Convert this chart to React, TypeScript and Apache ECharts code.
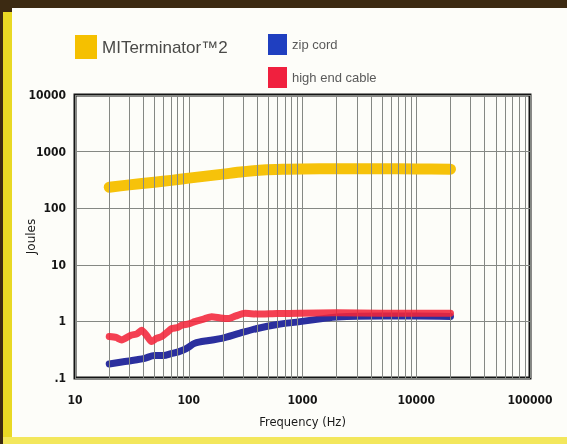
import React, { useEffect, useRef } from 'react';
import * as echarts from 'echarts';

const SERIES_NAMES = ['MITerminator™2', 'zip cord', 'high end cable'];

const FREQ_MIT = [20, 30, 50, 70, 100, 200, 300, 450, 700, 1000, 2000, 5000, 10000, 20000];
const MIT = [235, 258, 288, 310, 340, 400, 440, 475, 490, 495, 500, 498, 494, 490];

const FREQ_ZIP = [20, 25, 30, 35, 41, 50, 60, 70, 81, 95, 113, 150, 195, 282, 400, 600, 950, 1500, 2000, 5000, 10000, 20000];
const ZIP = [0.177, 0.19, 0.2, 0.21, 0.223, 0.25, 0.25, 0.27, 0.29, 0.33, 0.41, 0.46, 0.5, 0.62, 0.75, 0.88, 0.99, 1.12, 1.2, 1.24, 1.24, 1.22];

const FREQ_HIGH = [20, 23, 25.7, 31, 35, 38.5, 43, 47, 52, 58, 65, 71, 80, 87, 100, 113, 135, 159, 190, 222, 260, 312, 400, 600, 950, 2000, 5000, 10000, 20000];
const HIGH = [0.54, 0.52, 0.47, 0.57, 0.6, 0.7, 0.55, 0.44, 0.5, 0.54, 0.65, 0.75, 0.78, 0.86, 0.9, 0.99, 1.1, 1.21, 1.15, 1.12, 1.25, 1.39, 1.35, 1.38, 1.39, 1.42, 1.4, 1.4, 1.39];

const MINOR_X = [
  20, 30, 40, 50, 60, 70, 80, 90,
  200, 300, 400, 500, 600, 700, 800, 900,
  2000, 3000, 4000, 5000, 6000, 7000, 8000, 9000,
  20000, 30000, 40000, 50000, 60000, 70000, 80000, 90000,
];

const COLORS = ['#f6c20a', '#2b2f9e', '#f2263a'];
const LEGEND_COLORS = ['#f5c000', '#1f3fc0', '#f0203e'];

const zip = (xs: number[], ys: number[]) => xs.map((x, i) => [x, ys[i]]);

export default function App() {
  const ref = useRef<HTMLDivElement>(null);
  useEffect(() => {
    if (!ref.current) return;
    const chart = echarts.init(ref.current, undefined, { renderer: 'svg' });
    const tickFont = {
      fontFamily: "'Liberation Sans Narrow', 'DejaVu Sans Condensed', 'Liberation Sans', sans-serif",
      fontWeight: 'bold' as const,
      fontSize: 12,
      color: '#151515',
    };
    chart.setOption({
      animation: false,
      backgroundColor: 'transparent',
      graphic: [
        { type: 'rect', z: -10, silent: true, shape: { x: 0, y: 0, width: 567, height: 444 }, style: { fill: '#3c2a12' } },
        { type: 'rect', z: -9, silent: true, shape: { x: 3, y: 12, width: 10, height: 432 }, style: { fill: '#e9d924' } },
        { type: 'rect', z: -9, silent: true, shape: { x: 3, y: 437, width: 564, height: 7 }, style: { fill: '#f3e75c' } },
        { type: 'rect', z: -8, silent: true, shape: { x: 12, y: 8, width: 555, height: 429 }, style: { fill: '#fdfdf9' } },
      ],
      legend: [
        {
          data: [{ name: SERIES_NAMES[0], itemStyle: { color: LEGEND_COLORS[0] } }],
          left: 70, top: 30, icon: 'rect', itemWidth: 22, itemHeight: 24, itemGap: 0,
          textStyle: { fontSize: 17, color: '#4a4a48', fontFamily: "'Liberation Sans', sans-serif" },
        },
        {
          data: [{ name: SERIES_NAMES[1], itemStyle: { color: LEGEND_COLORS[1] } }],
          left: 263, top: 29, icon: 'rect', itemWidth: 19, itemHeight: 21,
          textStyle: { fontSize: 13, color: '#5a5a5a', fontFamily: "'Liberation Sans', sans-serif" },
        },
        {
          data: [{ name: SERIES_NAMES[2], itemStyle: { color: LEGEND_COLORS[2] } }],
          left: 263, top: 62, icon: 'rect', itemWidth: 19, itemHeight: 21,
          textStyle: { fontSize: 13, color: '#5a5a5a', fontFamily: "'Liberation Sans', sans-serif" },
        },
      ],
      grid: {
        left: 75, right: 37, top: 95, bottom: 66,
        show: true, borderColor: '#141414', borderWidth: 3, backgroundColor: 'transparent',
      },
      xAxis: {
        type: 'log', logBase: 10, min: 10, max: 100000,
        name: 'Frequency (Hz)', nameLocation: 'middle', nameGap: 38, nameMoveOverlap: false,
        nameTextStyle: { fontFamily: "'DejaVu Sans', sans-serif", fontSize: 11.5, color: '#1a1a1a' },
        axisLine: { show: false },
        axisTick: { show: false },
        axisLabel: { ...tickFont, margin: 16, formatter: (v: number) => String(Math.round(v)) },
        splitLine: { show: true, lineStyle: { color: '#858884', width: 1 } },
        minorTick: { show: false },
      },
      yAxis: {
        type: 'log', logBase: 10, min: 0.1, max: 10000,
        name: 'Joules', nameLocation: 'middle', nameGap: 38, nameMoveOverlap: false,
        nameTextStyle: { fontFamily: "'DejaVu Sans', sans-serif", fontSize: 12, color: '#1a1a1a' },
        axisLine: { show: false },
        axisTick: { show: false },
        axisLabel: { ...tickFont, margin: 9, formatter: (v: number) => (v < 1 ? '.1' : String(Math.round(v))) },
        splitLine: { show: true, lineStyle: { color: '#858884', width: 1 } },
      },
      series: [
        {
          type: 'line', name: '__grid', data: [], z: 1, silent: true,
          markLine: {
            silent: true, symbol: 'none', label: { show: false },
            lineStyle: { color: '#858884', width: 1, type: 'solid' },
            data: MINOR_X.map((x) => ({ xAxis: x })),
          },
        },
        {
          type: 'line', name: SERIES_NAMES[0], data: zip(FREQ_MIT, MIT), z: 3,
          showSymbol: false, smooth: 0.3,
          itemStyle: { color: LEGEND_COLORS[0] },
          lineStyle: { color: COLORS[0], width: 11, cap: 'round', join: 'round' },
        },
        {
          type: 'line', name: SERIES_NAMES[1], data: zip(FREQ_ZIP, ZIP), z: 4,
          showSymbol: false, smooth: 0.3,
          itemStyle: { color: LEGEND_COLORS[1] },
          lineStyle: { color: COLORS[1], width: 7, cap: 'round', join: 'round' },
        },
        {
          type: 'line', name: SERIES_NAMES[2], data: zip(FREQ_HIGH, HIGH), z: 5,
          showSymbol: false, smooth: 0.2,
          itemStyle: { color: LEGEND_COLORS[2] },
          lineStyle: { color: COLORS[2], width: 7, cap: 'round', join: 'round', opacity: 0.88 },
        },
      ],
    });
    return () => chart.dispose();
  }, []);
  return (
    <div
      ref={ref}
      style={{ position: 'fixed', left: 0, top: 0, width: 567, height: 444 }}
    />
  );
}
